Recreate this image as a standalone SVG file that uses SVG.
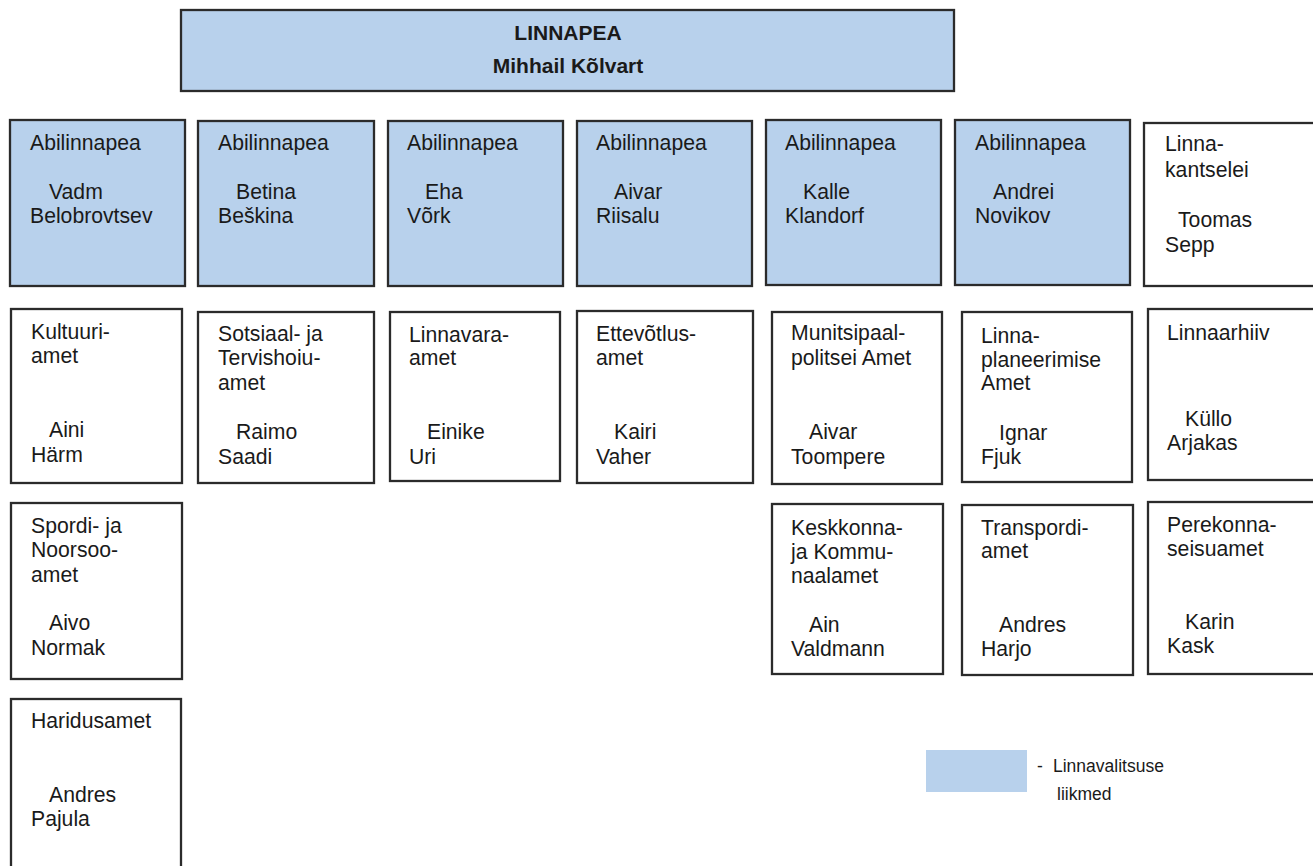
<svg xmlns="http://www.w3.org/2000/svg" width="1313" height="866" viewBox="0 0 1313 866">
<style>
.b{fill:#b8d1ec;stroke:#2b2b2b;stroke-width:2.3}
.w{fill:#ffffff;stroke:#2b2b2b;stroke-width:2.3}
text{font-family:"Liberation Sans",Arial,sans-serif;font-size:21.2px;fill:#1a1a1a}
.h{font-weight:bold;text-anchor:middle;font-size:21px}
.lg{font-size:17.5px}
</style>
<rect width="1313" height="866" fill="#ffffff"/>
<g id="connectors"></g>
<g id="linnapea"><rect class="b" x="181" y="10" width="773" height="81"/><text class="h" x="568" y="40">LINNAPEA</text><text class="h" x="568" y="73">Mihhail Kõlvart</text></g>

<g id="abi1"><rect class="b" x="10" y="120" width="175" height="166"/><text x="30" y="150">Abilinnapea</text><text x="49" y="199">Vadm</text><text x="30" y="223">Belobrovtsev</text></g>
<g id="abi2"><rect class="b" x="198" y="121" width="176" height="165"/><text x="218" y="150">Abilinnapea</text><text x="236" y="199">Betina</text><text x="218" y="223">Beškina</text></g>
<g id="abi3"><rect class="b" x="388" y="121" width="175" height="165"/><text x="407" y="150">Abilinnapea</text><text x="425" y="199">Eha</text><text x="407" y="223">Võrk</text></g>
<g id="abi4"><rect class="b" x="577" y="121" width="175" height="165"/><text x="596" y="150">Abilinnapea</text><text x="614" y="199">Aivar</text><text x="596" y="223">Riisalu</text></g>
<g id="abi5"><rect class="b" x="766" y="120" width="175" height="165"/><text x="785" y="150">Abilinnapea</text><text x="803" y="199">Kalle</text><text x="785" y="223">Klandorf</text></g>
<g id="abi6"><rect class="b" x="955" y="120" width="175" height="165"/><text x="975" y="150">Abilinnapea</text><text x="993" y="199">Andrei</text><text x="975" y="223">Novikov</text></g>
<g id="kantselei"><rect class="w" x="1144" y="123" width="175" height="163"/><text x="1165" y="151">Linna-</text><text x="1165" y="177">kantselei</text><text x="1178" y="227">Toomas</text><text x="1165" y="252">Sepp</text></g>

<g id="kultuur"><rect class="w" x="11" y="309" width="171" height="174"/><text x="31" y="339">Kultuuri-</text><text x="31" y="363">amet</text><text x="49" y="437">Aini</text><text x="31" y="462">Härm</text></g>
<g id="sotsiaal"><rect class="w" x="198" y="312" width="176" height="171"/><text x="218" y="341">Sotsiaal- ja</text><text x="218" y="365">Tervishoiu-</text><text x="218" y="390">amet</text><text x="236" y="439">Raimo</text><text x="218" y="464">Saadi</text></g>
<g id="linnavara"><rect class="w" x="390" y="312" width="170" height="169"/><text x="409" y="342">Linnavara-</text><text x="409" y="365">amet</text><text x="427" y="439">Einike</text><text x="409" y="464">Uri</text></g>
<g id="ettevotlus"><rect class="w" x="577" y="311" width="176" height="172"/><text x="596" y="341">Ettevõtlus-</text><text x="596" y="365">amet</text><text x="614" y="439">Kairi</text><text x="596" y="464">Vaher</text></g>
<g id="munitsipaal"><rect class="w" x="772" y="312" width="170" height="172"/><text x="791" y="340">Munitsipaal-</text><text x="791" y="365">politsei Amet</text><text x="809" y="439">Aivar</text><text x="791" y="464">Toompere</text></g>
<g id="planeerimine"><rect class="w" x="962" y="312" width="170" height="170"/><text x="981" y="343">Linna-</text><text x="981" y="367">planeerimise</text><text x="981" y="390">Amet</text><text x="999" y="440">Ignar</text><text x="981" y="464">Fjuk</text></g>
<g id="arhiiv"><rect class="w" x="1148" y="309" width="175" height="171"/><text x="1167" y="340">Linnaarhiiv</text><text x="1185" y="426">Küllo</text><text x="1167" y="450">Arjakas</text></g>

<g id="sport"><rect class="w" x="11" y="503" width="171" height="176"/><text x="31" y="533">Spordi- ja</text><text x="31" y="557">Noorsoo-</text><text x="31" y="582">amet</text><text x="49" y="630">Aivo</text><text x="31" y="655">Normak</text></g>
<g id="haridus"><rect class="w" x="11" y="699" width="170" height="180"/><text x="31" y="728">Haridusamet</text><text x="49" y="802">Andres</text><text x="31" y="826">Pajula</text></g>
<g id="keskkond"><rect class="w" x="772" y="504" width="171" height="170"/><text x="791" y="535">Keskkonna-</text><text x="791" y="559">ja Kommu-</text><text x="791" y="583">naalamet</text><text x="809" y="632">Ain</text><text x="791" y="656">Valdmann</text></g>
<g id="transport"><rect class="w" x="962" y="505" width="171" height="170"/><text x="981" y="535">Transpordi-</text><text x="981" y="558">amet</text><text x="999" y="632">Andres</text><text x="981" y="656">Harjo</text></g>
<g id="perekond"><rect class="w" x="1148" y="502" width="175" height="172"/><text x="1167" y="532">Perekonna-</text><text x="1167" y="556">seisuamet</text><text x="1185" y="629">Karin</text><text x="1167" y="653">Kask</text></g>

<g id="legend"><rect x="926" y="750" width="101" height="42" fill="#b8d1ec"/><text class="lg" x="1037" y="772">-</text><text class="lg" x="1053" y="772">Linnavalitsuse</text><text class="lg" x="1057" y="800">liikmed</text></g>
</svg>
